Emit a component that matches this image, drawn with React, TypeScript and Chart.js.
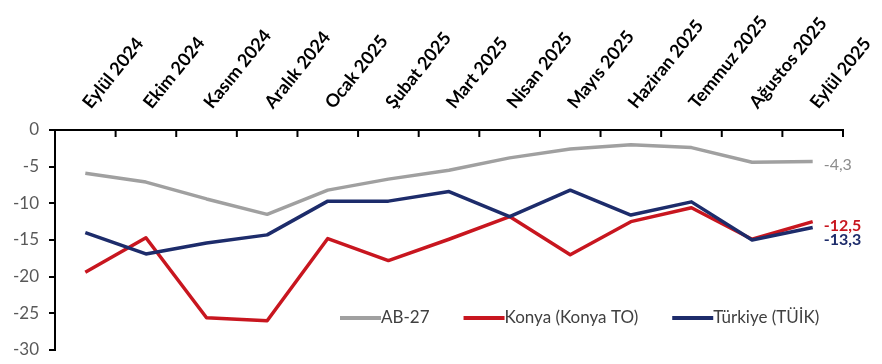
import React, { useEffect, useRef } from "react";
import { Chart, registerables } from "chart.js";

Chart.register(...registerables);

const categories = [
  "Eylül 2024", "Ekim 2024", "Kasım 2024", "Aralık 2024", "Ocak 2025", "Şubat 2025",
  "Mart 2025", "Nisan 2025", "Mayıs 2025", "Haziran 2025", "Temmuz 2025", "Ağustos 2025", "Eylül 2025",
];
const ab27 = [-5.9, -7.1, -9.4, -11.5, -8.2, -6.7, -5.5, -3.8, -2.6, -2.0, -2.4, -4.4, -4.3];
const konya = [-19.4, -14.7, -25.6, -26.0, -14.8, -17.8, -14.9, -11.8, -17.0, -12.5, -10.6, -14.9, -12.5];
const turkiye = [-14.0, -16.9, -15.4, -14.3, -9.7, -9.7, -8.4, -11.8, -8.2, -11.6, -9.8, -15.0, -13.3];
const seriesNames = ["AB-27", "Konya (Konya TO)", "Türkiye (TÜİK)"];
const seriesColors = ["#a0a0a0", "#c8161f", "#1d2c6b"];
const yTicks = { min: -30, max: 0, step: 5 };

const FONT = "Lato, 'Liberation Sans', sans-serif";

const fmt = (v: number) => v.toFixed(1).replace(".", ",");

const insideTicksPlugin = {
  id: "insideTicks",
  afterDraw(chart: any) {
    const { ctx, chartArea } = chart;
    const xs = chart.scales.x;
    const n = categories.length;
    ctx.save();
    ctx.strokeStyle = "#000";
    ctx.lineWidth = 2;
    for (let i = 0; i <= n; i++) {
      let x: number;
      if (i === 0) x = chartArea.left;
      else if (i === n) x = chartArea.right;
      else x = (xs.getPixelForValue(i - 1) + xs.getPixelForValue(i)) / 2;
      ctx.beginPath();
      ctx.moveTo(x, chartArea.top);
      ctx.lineTo(x, chartArea.top + 7);
      ctx.stroke();
    }
    ctx.restore();
  },
};

const endLabelOffsets = [3, 4, 12];
const endLabelBold = [false, true, true];

const endLabelsPlugin = {
  id: "endLabels",
  afterDatasetsDraw(chart: any) {
    const { ctx } = chart;
    ctx.save();
    chart.data.datasets.forEach((ds: any, i: number) => {
      const meta = chart.getDatasetMeta(i);
      const pt = meta.data[meta.data.length - 1];
      const v = ds.data[ds.data.length - 1];
      ctx.font = `${endLabelBold[i] ? "bold " : ""}16px ${FONT}`;
      ctx.fillStyle = i === 0 ? "#8c8c8c" : seriesColors[i];
      ctx.textAlign = "left";
      ctx.textBaseline = "middle";
      ctx.fillText(fmt(v), pt.x + 11, pt.y + endLabelOffsets[i]);
    });
    ctx.restore();
  },
};

const legendPlugin = {
  id: "innerLegend",
  afterDraw(chart: any) {
    const { ctx, chartArea } = chart;
    ctx.save();
    ctx.font = `17px ${FONT}`;
    ctx.textBaseline = "middle";
    ctx.textAlign = "left";
    let x = chartArea.left + 285;
    const y = chartArea.bottom - 32;
    seriesNames.forEach((name, i) => {
      ctx.strokeStyle = seriesColors[i];
      ctx.lineWidth = 4;
      ctx.beginPath();
      ctx.moveTo(x, y);
      ctx.lineTo(x + 41, y);
      ctx.stroke();
      x += 41;
      ctx.fillStyle = "#404040";
      ctx.fillText(name, x, y);
      x += ctx.measureText(name).width + 34;
    });
    ctx.restore();
  },
};

export default function App() {
  const ref = useRef<HTMLCanvasElement | null>(null);
  useEffect(() => {
    if (!ref.current) return;
    const series = [ab27, konya, turkiye];
    const chart = new Chart(ref.current, {
      type: "line",
      data: {
        labels: categories,
        datasets: series.map((d, i) => ({
          label: seriesNames[i],
          data: d,
          borderColor: seriesColors[i],
          backgroundColor: seriesColors[i],
          borderWidth: 3.5,
          pointRadius: 0,
          tension: 0,
          borderJoinStyle: "round" as const,
          order: 3 - i,
        })),
      },
      options: {
        responsive: false,
        animation: false,
        layout: { padding: { left: 0, right: 39, top: 0, bottom: 14 } },
        plugins: { legend: { display: false }, tooltip: { enabled: false } },
        scales: {
          x: {
            type: "category",
            position: "top",
            offset: true,
            grid: { display: false, drawTicks: false },
            border: { display: true, color: "#000", width: 2 },
            ticks: {
              autoSkip: false,
              minRotation: 51,
              maxRotation: 51,
              padding: 17,
              labelOffset: 18,
              color: "#000",
              font: { family: FONT, size: 18, weight: "bold" },
            },
            afterFit(s: any) {
              s.height = 130;
              s.paddingLeft = 0;
              s.paddingRight = 0;
            },
          },
          y: {
            min: yTicks.min,
            max: yTicks.max,
            ticks: {
              stepSize: yTicks.step,
              color: "#595959",
              padding: 10,
              font: { family: FONT, size: 17 },
            },
            grid: { display: true, drawOnChartArea: false, drawTicks: true, tickLength: 6, color: "#000", lineWidth: 2 },
            border: { display: true, color: "#000", width: 2 },
            afterFit(s: any) {
              s.width = 55;
              s.paddingTop = 0;
              s.paddingBottom = 0;
            },
          },
        },
      },
      plugins: [insideTicksPlugin, endLabelsPlugin, legendPlugin],
    });
    return () => chart.destroy();
  }, []);
  return (
    <canvas
      ref={ref}
      width={882}
      height={364}
      style={{ position: "fixed", left: 0, top: 0, width: 882, height: 364, background: "#fff" }}
    />
  );
}
